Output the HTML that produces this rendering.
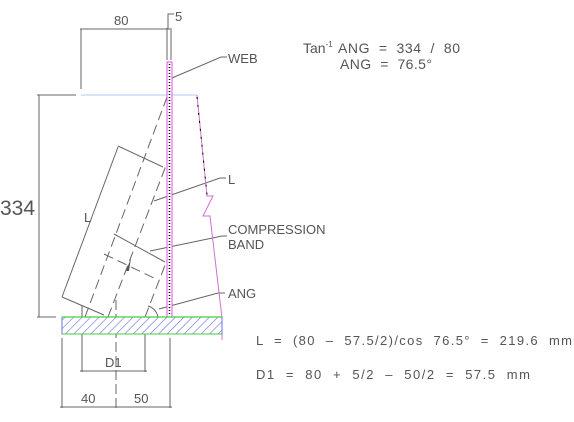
<!DOCTYPE html>
<html><head><meta charset="utf-8"><style>
html,body{margin:0;padding:0;background:#fff;}
svg{display:block;}
text{font-family:"Liberation Sans",sans-serif;fill:#555;}
</style></head><body>
<svg width="574" height="422" viewBox="0 0 574 422">
<defs>
<pattern id="hatch" width="6" height="6" patternUnits="userSpaceOnUse" patternTransform="rotate(45)">
<rect width="6" height="6" fill="#fff"/>
<line x1="0" y1="0" x2="0" y2="6" stroke="#7070e0" stroke-width="1.2"/>
</pattern>
</defs>
<g stroke="#666" stroke-width="1" fill="none">
<line x1="80" y1="29" x2="170" y2="29"/>
<line x1="81" y1="29" x2="81" y2="89"/>
<line x1="167" y1="28" x2="167" y2="60"/>
<line x1="171" y1="28" x2="171" y2="60"/>
<polyline points="168,29 168,14 174,14"/>
<line x1="39" y1="95" x2="39" y2="317"/>
<line x1="37" y1="95" x2="76" y2="95"/>
<line x1="37" y1="317" x2="56" y2="317"/>
<line x1="62" y1="297" x2="118" y2="147"/>
<line x1="118" y1="146" x2="163" y2="167"/>
<line x1="62" y1="297" x2="104" y2="315"/>
<line x1="114" y1="234" x2="165" y2="262"/>
<polyline points="172,78 221,57 227,57"/>
<polyline points="154,201 220,178 226,178"/>
<polyline points="150,251 222,236 227,236"/>
<polyline points="159,309 218,293 225,293"/>
<path d="M148,306 A14,14 0 0 1 158,317"/>
<line x1="82" y1="305" x2="82" y2="372"/>
<line x1="145" y1="318" x2="145" y2="372"/>
<line x1="80" y1="371" x2="147" y2="371"/>
<line x1="62" y1="338" x2="62" y2="408"/>
<line x1="170" y1="338" x2="170" y2="408"/>
<line x1="60" y1="407" x2="172" y2="407"/>
<line x1="116" y1="300" x2="116" y2="408" stroke-dasharray="10,4"/>
</g>
<g stroke="#666" stroke-width="1" fill="none" stroke-dasharray="10,5">
<line x1="85" y1="317" x2="167" y2="97"/>
<line x1="108" y1="317" x2="167" y2="163"/>
<line x1="145" y1="317" x2="167" y2="260"/>
<line x1="104" y1="254" x2="158" y2="280"/>
</g>
<path d="M126,271 L131,258 L129,271Z" fill="#555"/>
<line x1="81" y1="95" x2="197" y2="95" stroke="#bcd8f0" stroke-width="1.2"/>
<polyline points="197,95 207,196 213,196 203,216 210,216 222,318 222,340" fill="none" stroke="#d070d0" stroke-width="1"/>
<polyline points="197,97 207,195" fill="none" stroke="#000" stroke-width="1" stroke-dasharray="2,6"/>
<rect x="167" y="62" width="5" height="255" fill="#fff" stroke="#e050e0" stroke-width="1"/>
<line x1="169.5" y1="64" x2="169.5" y2="316" stroke="#000" stroke-width="1.5" stroke-dasharray="1,2"/>
<rect x="62" y="317" width="160" height="17" fill="url(#hatch)" stroke="#7070e0" stroke-width="1"/>
<line x1="62" y1="317" x2="222" y2="317" stroke="#40d040" stroke-width="1.2"/>
<line x1="62" y1="334" x2="222" y2="334" stroke="#40d040" stroke-width="1"/>
<text x="114" y="25" font-size="13">80</text>
<text x="175" y="21" font-size="13">5</text>
<text x="0" y="215" font-size="21">334</text>
<text x="228" y="63" font-size="13">WEB</text>
<text x="228" y="184" font-size="13">L</text>
<text x="84" y="222" font-size="13">L</text>
<text x="228" y="234" font-size="13">COMPRESSION</text>
<text x="228" y="249" font-size="13">BAND</text>
<text x="228" y="298" font-size="13">ANG</text>
<text x="105" y="367" font-size="13">D1</text>
<text x="81" y="403" font-size="13">40</text>
<text x="134" y="403" font-size="13">50</text>
<text x="303" y="53" font-size="14">Tan<tspan font-size="8" dy="-6">-1</tspan></text>
<text x="338" y="53" font-size="14" textLength="122" xml:space="preserve">ANG  =  334  /  80</text>
<text x="340" y="69" font-size="14" textLength="92" xml:space="preserve">ANG  =  76.5°</text>
<text x="256" y="345" font-size="13" textLength="316" xml:space="preserve">L  =  (80  –  57.5/2)/cos  76.5°  =  219.6  mm</text>
<text x="256" y="379" font-size="13" textLength="274" xml:space="preserve">D1  =  80  +  5/2  –  50/2  =  57.5  mm</text>
</svg>
</body></html>
